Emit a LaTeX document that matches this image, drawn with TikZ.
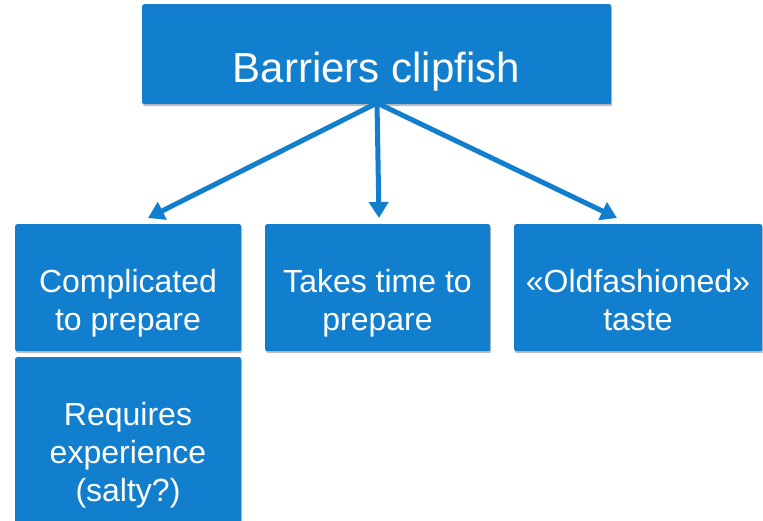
\documentclass[tikz,border=0pt]{standalone}
\usepackage{fontspec}
\setmainfont{Liberation Sans}
\usetikzlibrary{arrows.meta,shadows}
\definecolor{boxblue}{RGB}{18,127,206}
\begin{document}
\begin{tikzpicture}[x=1pt,y=-1pt,
  box/.style={rectangle, rounded corners=2pt, fill=boxblue, draw=none, inner sep=0pt,
    anchor=north west,
    drop shadow={shadow xshift=1pt, shadow yshift=-2pt, opacity=0.25, fill=black}},
  bigtxt/.style={text=white, inner sep=0pt, align=center, font=\fontsize{42}{50}\selectfont},
  smalltxt/.style={text=white, inner sep=0pt, align=center, font=\fontsize{32}{38}\selectfont},
  conn/.style={draw=boxblue, line width=5pt, -{Triangle[width=19pt,length=16pt]}}
]
\clip (0,0) rectangle (763,521);
\fill[white] (0,0) rectangle (763,521);
% boxes
\node[box, minimum width=469pt, minimum height=100pt] (top) at (142,4) {};
\node[box, minimum width=226pt, minimum height=127pt] (b1) at (15,224) {};
\node[box, minimum width=225pt, minimum height=127pt] (b2) at (265,224) {};
\node[box, minimum width=248pt, minimum height=127pt] (b3) at (514,224) {};
\node[box, minimum width=226pt, minimum height=180pt] (b4) at (15,357) {};
% texts
\node[bigtxt] (topt) at (376.5,71.4) {Barriers clipfish};
\node[smalltxt] (b1t) at (128,303) {Complicated\\to prepare};
\node[smalltxt] (b2t) at (377.5,303) {Takes time to\\prepare};
\node[smalltxt] (b3t) at (638,300) {«Oldfashioned»\\taste};
\node[smalltxt] (b4t) at (128,455) {Requires\\experience\\(salty?)};
% connector ends
\coordinate (s) at (377,103);
\coordinate (e1) at (148,218);
\coordinate (e2) at (379,218);
\coordinate (e3) at (617,218);
\draw[conn] (s) -- (e1);
\draw[conn] (s) -- (e2);
\draw[conn] (s) -- (e3);
\end{tikzpicture}
\end{document}
